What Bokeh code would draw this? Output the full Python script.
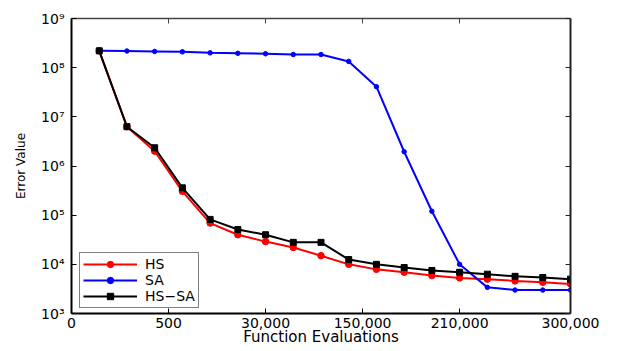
from bokeh.plotting import figure
from bokeh.models import (LogAxis, LinearAxis, FixedTicker, Legend, LegendItem,
                          Range1d)
from bokeh.embed import file_html
from bokeh.resources import INLINE

# ---- data ----
eval_index = list(range(1, 19))
hs = [2.2e8, 6.3e6, 2.0e6, 3.05e5, 6.9e4, 4.0e4, 2.9e4, 2.2e4, 1.5e4,
      1.0e4, 7.9e3, 6.9e3, 5.9e3, 5.3e3, 5.0e3, 4.6e3, 4.3e3, 4.0e3]
sa = [2.2e8, 2.18e8, 2.14e8, 2.1e8, 2.0e8, 1.96e8, 1.92e8, 1.85e8, 1.85e8,
      1.34e8, 4.1e7, 1.95e6, 1.2e5, 1.0e4, 3.4e3, 3.0e3, 3.0e3, 3.0e3]
hs_sa = [2.2e8, 6.3e6, 2.35e6, 3.6e5, 8.2e4, 5.1e4, 4.0e4, 2.8e4, 2.8e4,
         1.25e4, 1.0e4, 8.6e3, 7.5e3, 6.9e3, 6.3e3, 5.7e3, 5.4e3, 5.0e3]

x_tick_pos = [0, 3.5, 7, 10.5, 14, 18]
x_tick_labels = ["0", "500", "30,000", "150,000", "210,000", "300,000"]
y_ticks = [1e3, 1e4, 1e5, 1e6, 1e7, 1e8, 1e9]
y_tick_labels = ["10³", "10⁴", "10⁵", "10⁶", "10⁷", "10⁸", "10⁹"]

FONT = "DejaVu Sans"

p = figure(width=617, height=350, y_axis_type="log",
           x_range=Range1d(0, 18), y_range=Range1d(1e3, 1e9),
           output_backend="svg", toolbar_location=None,
           min_border_left=71, min_border_top=18, min_border_right=47,
           min_border_bottom=37,
           background_fill_color="white", border_fill_color="white")
p.xgrid.visible = False
p.ygrid.visible = False
p.outline_line_color = None

# main axes
xa = p.xaxis[0]
xa.ticker = FixedTicker(ticks=x_tick_pos)
xa.major_label_overrides = {k: v for k, v in zip(x_tick_pos, x_tick_labels)}
xa.axis_label = "Function Evaluations"
ya = p.yaxis[0]
ya.ticker = FixedTicker(ticks=y_ticks)
ya.major_label_overrides = {k: v for k, v in zip(y_ticks, y_tick_labels)}
ya.axis_label = "Error Value"

for ax in (xa, ya):
    ax.major_tick_in = 5
    ax.major_tick_out = 0
    ax.minor_tick_line_color = None
    ax.axis_line_color = "black"
    ax.axis_line_width = 2
    ax.major_tick_line_color = "black"
    ax.major_label_text_font = FONT
    ax.major_label_text_font_size = "14px"
    ax.major_label_text_color = "black"
    ax.axis_label_text_font = FONT
    ax.axis_label_text_font_style = "normal"
    ax.axis_label_text_color = "black"
xa.major_label_standoff = 4
xa.axis_label_standoff = -3
xa.axis_label_text_font_size = "15px"
ya.major_label_standoff = 7
ya.axis_label_standoff = 10
ya.axis_label_text_font_size = "12px"

# box axes (ticks only, labels not drawn)
top = LinearAxis(ticker=FixedTicker(ticks=x_tick_pos),
                 major_label_text_font_size="1px", major_label_text_color=None,
                 major_label_standoff=0,
                 major_tick_in=5, major_tick_out=0,
                 minor_tick_line_color=None, axis_line_color="#444",
                 major_tick_line_color="#444", axis_line_width=1.5)
right = LogAxis(ticker=FixedTicker(ticks=y_ticks),
                major_label_text_font_size="1px", major_label_text_color=None,
                major_label_standoff=0,
                major_tick_in=5, major_tick_out=0,
                minor_tick_line_color=None, axis_line_color="#222",
                major_tick_line_color="#222", axis_line_width=2)
p.add_layout(top, "above")
p.add_layout(right, "right")

# series
l1 = p.line(eval_index, hs, line_color="#ff0000", line_width=2)
s1 = p.scatter(eval_index, hs, marker="circle", size=6.5,
               fill_color="#ff0000", line_color="#ff0000")
l2 = p.line(eval_index, sa, line_color="#0000ff", line_width=2)
s2 = p.scatter(eval_index, sa, marker="circle", size=4.5,
               fill_color="#0000ff", line_color="#0000ff")
l3 = p.line(eval_index, hs_sa, line_color="black", line_width=2)
s3 = p.scatter(eval_index, hs_sa, marker="square", size=6,
               fill_color="black", line_color="black")

legend = Legend(items=[LegendItem(label="HS", renderers=[l1, s1]),
                       LegendItem(label="SA", renderers=[l2, s2]),
                       LegendItem(label="HS−SA", renderers=[l3, s3])],
                location=(8, 5), margin=0, padding=3, spacing=0,
                label_height=16, glyph_height=16, glyph_width=54,
                label_standoff=8, label_text_font=FONT,
                label_text_font_size="14px", label_text_color="black",
                border_line_color="black", border_line_width=1,
                background_fill_color="white", background_fill_alpha=1)
p.add_layout(legend)

open("out.html", "w").write(file_html(p, INLINE))
